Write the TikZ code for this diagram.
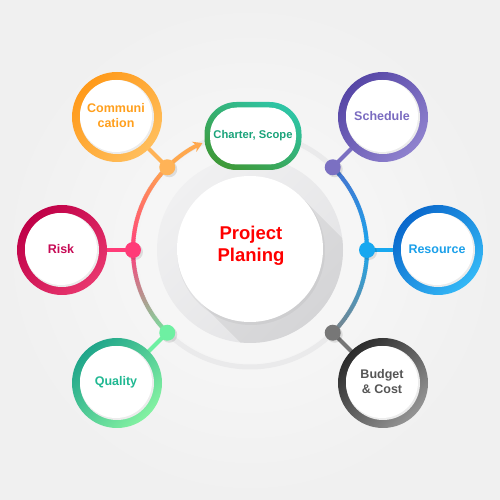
\documentclass[tikz,border=0pt]{standalone}
\usepackage{fontspec}
\setmainfont{Liberation Sans}
\usetikzlibrary{arrows.meta, positioning, calc}

\definecolor{bgOuter}{HTML}{F0F0F0}
\definecolor{bgInner}{HTML}{FAFAFA}
\definecolor{ringGray}{HTML}{EAEAEB}
\definecolor{discA}{HTML}{E3E3E5}
\definecolor{discB}{HTML}{F0F0F1}
% satellite rings (dark, light, text)
\definecolor{commA}{HTML}{FF9A1A}\definecolor{commB}{HTML}{FFBE5C}\definecolor{commT}{HTML}{FF9F1C}
\definecolor{schedA}{HTML}{5646A6}\definecolor{schedB}{HTML}{8F82CE}\definecolor{schedT}{HTML}{7A6BC0}
\definecolor{riskA}{HTML}{BF0047}\definecolor{riskB}{HTML}{E8366E}\definecolor{riskT}{HTML}{C70A55}
\definecolor{resA}{HTML}{0A68CC}\definecolor{resB}{HTML}{34B8F6}\definecolor{resT}{HTML}{1BA0EA}
\definecolor{qualA}{HTML}{1FA58A}\definecolor{qualB}{HTML}{84F2A2}\definecolor{qualT}{HTML}{20B892}
\definecolor{budgA}{HTML}{2B2B2B}\definecolor{budgB}{HTML}{959595}\definecolor{budgT}{HTML}{555555}
\definecolor{charA}{HTML}{3E9A3A}\definecolor{charB}{HTML}{2EC4A4}\definecolor{charT}{HTML}{1AA37A}
% arc colours
\definecolor{commArc}{HTML}{FFA84E}\definecolor{riskArc}{HTML}{FF3D7C}\definecolor{qualArc}{HTML}{70EAA0}
\definecolor{schedArc}{HTML}{4A6FCC}\definecolor{resArc}{HTML}{1AA6EE}\definecolor{budgArc}{HTML}{7C848A}
% dots and links
\definecolor{commDot}{HTML}{FFB357}\definecolor{schedDot}{HTML}{7B70C2}\definecolor{riskDot}{HTML}{FF3B78}
\definecolor{resDot}{HTML}{18A8F0}\definecolor{qualDot}{HTML}{6EF0A2}\definecolor{budgDot}{HTML}{777777}

\begin{document}
\begin{tikzpicture}[x=1pt, y=1pt,
  dot/.style={circle, inner sep=0pt, minimum size=16pt},
  satellite/.style={circle, fill=white, inner sep=0pt, minimum size=72pt, align=center,
    font=\fontsize{12.5}{15}\selectfont\bfseries},
  link/.style={line width=4pt},
  arcseg/.style={line width=4pt},
]
  % Background
  \shade[inner color=bgInner, outer color=bgOuter] (0,0) rectangle (500,500);
  \useasboundingbox (0,0) rectangle (500,500);

  % Positions
  \coordinate (hub) at (250,250);
  \coordinate (core) at (250,251);
  \coordinate (pComm) at ($(hub)+(135:117pt)$);
  \coordinate (pRisk) at ($(hub)+(180:117pt)$);
  \coordinate (pQual) at ($(hub)+(225:117pt)$);
  \coordinate (pSched) at ($(hub)+(45:117pt)$);
  \coordinate (pRes) at ($(hub)+(0:117pt)$);
  \coordinate (pBudg) at ($(hub)+(-45:117pt)$);
  \coordinate (sComm) at (117,383);
  \coordinate (sSched) at (383,383);
  \coordinate (sRisk) at (62,250);
  \coordinate (sRes) at (438,250);
  \coordinate (sQual) at (117,117);
  \coordinate (sBudg) at (383,117);
  \coordinate (cChar) at (253,364);

  % Outer thin ring
  \draw[ringGray, line width=5pt] (hub) circle (117pt);

  % Left arc: orange -> pink -> green
  \foreach \a [evaluate=\a as \p using {int((\a-135)*100/45)}] in {135,...,179}
    \draw[arcseg, draw=riskArc!\p!commArc] ($(hub)+(\a:117pt)$) arc[start angle=\a, delta angle=1.5, radius=117pt];
  \foreach \a [evaluate=\a as \p using {int((\a-180)*100/45)}] in {180,...,224}
    \draw[arcseg, draw=qualArc!\p!riskArc] ($(hub)+(\a:117pt)$) arc[start angle=\a, delta angle=1.5, radius=117pt];
  % Right arc: purple-blue -> blue -> gray
  \foreach \a [evaluate=\a as \p using {int(\a*100/45)}] in {0,...,44}
    \draw[arcseg, draw=schedArc!\p!resArc] ($(hub)+(\a:117pt)$) arc[start angle=\a, delta angle=1.5, radius=117pt];
  \foreach \a [evaluate=\a as \p using {int((\a+45)*100/45)}] in {-45,...,-1}
    \draw[arcseg, draw=resArc!\p!budgArc] ($(hub)+(\a:117pt)$) arc[start angle=\a, delta angle=1.5, radius=117pt];
  % Arrow towards the charter
  \draw[arcseg, commArc, -{Stealth[length=9pt, width=11pt]}] (pComm) arc[start angle=135, end angle=114, radius=117pt];

  % Central disc
  \shade[top color=discA, bottom color=discB, shading angle=-135] (hub) circle (93pt);
  \begin{scope}
    \clip (hub) circle (93pt);
    \fill[black, opacity=.06] ($(core)+(45:73pt)$) -- ++(-45:160pt) -- ($(core)+(225:73pt)+(-45:160pt)$) -- ($(core)+(225:73pt)$) -- cycle;
  \end{scope}
  \fill[black, opacity=.04] ($(core)+(1,-2)$) circle (74pt);
  \node[circle, fill=white, minimum size=146pt, inner sep=0pt] (hubdisc) at (core) {};
  \node[text=red, align=center, font=\fontsize{18.5}{22}\selectfont\bfseries] (title) at (251,254) {Project\\Planing};

  % Charter, Scope box
  \shade[top color=charB, bottom color=charA, shading angle=-30, rounded corners=32pt]
    ($(cChar)+(-48.5,-34)$) rectangle ($(cChar)+(48.5,34)$);
  \node[fill=white, rounded corners=27pt, minimum width=86pt, minimum height=57pt, inner sep=0pt,
    text=charT, font=\fontsize{11.2}{13}\selectfont\bfseries] (charter) at (cChar) {Charter, Scope};

  % Links from the ring to the satellites
  \draw[link, commDot] (pComm) -- (sComm);
  \draw[link, schedDot] (pSched) -- (sSched);
  \draw[link, riskDot] (pRisk) -- (sRisk);
  \draw[link, resDot] (pRes) -- (sRes);
  \draw[link, qualDot] (pQual) -- (sQual);
  \draw[link, budgDot] (pBudg) -- (sBudg);

  % Satellites
  \shade[top color=commA, bottom color=commB, shading angle=45] (sComm) circle (45pt);
  \fill[gray!15] (sComm) circle (37pt);
  \node[satellite, text=commT] (comm) at ($(sComm)+(-1,1)$) {Communi\\cation};

  \shade[top color=schedA, bottom color=schedB, shading angle=45] (sSched) circle (45pt);
  \fill[gray!15] (sSched) circle (37pt);
  \node[satellite, text=schedT] (sched) at ($(sSched)+(-1,1)$) {Schedule};

  \shade[top color=riskA, bottom color=riskB, shading angle=45] (sRisk) circle (45pt);
  \fill[gray!15] (sRisk) circle (37pt);
  \node[satellite, text=riskT] (risk) at ($(sRisk)+(-1,1)$) {Risk};

  \shade[top color=resA, bottom color=resB, shading angle=45] (sRes) circle (45pt);
  \fill[gray!15] (sRes) circle (37pt);
  \node[satellite, text=resT] (res) at ($(sRes)+(-1,1)$) {Resource};

  \shade[top color=qualA, bottom color=qualB, shading angle=45] (sQual) circle (45pt);
  \fill[gray!15] (sQual) circle (37pt);
  \node[satellite, text=qualT] (qual) at ($(sQual)+(-1,1)$) {Quality};

  \shade[top color=budgA, bottom color=budgB, shading angle=45] (sBudg) circle (45pt);
  \fill[gray!15] (sBudg) circle (37pt);
  \node[satellite, text=budgT] (budg) at ($(sBudg)+(-1,1)$) {Budget\\\& Cost};

  % Dots on the ring
  \foreach \p in {pComm, pSched, pRisk, pRes, pQual, pBudg}
    \fill[black, opacity=.1] ($(\p)+(2,-2)$) circle (8pt);
  \node[dot, fill=commDot] (dComm) at (pComm) {};
  \node[dot, fill=schedDot] (dSched) at (pSched) {};
  \node[dot, fill=riskDot] (dRisk) at (pRisk) {};
  \node[dot, fill=resDot] (dRes) at (pRes) {};
  \node[dot, fill=qualDot] (dQual) at (pQual) {};
  \node[dot, fill=budgDot] (dBudg) at (pBudg) {};
\end{tikzpicture}
\end{document}
